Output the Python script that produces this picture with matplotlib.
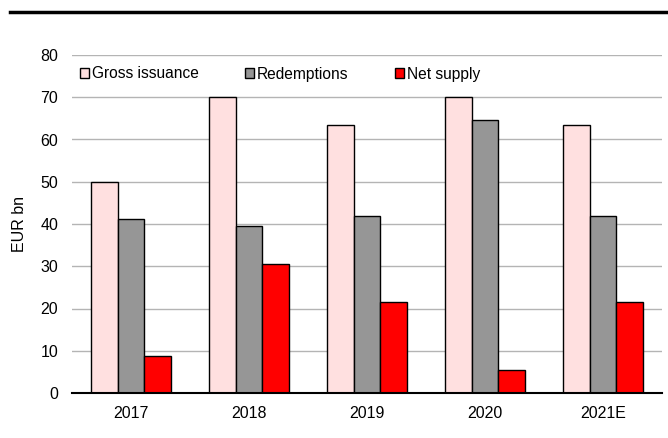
import matplotlib
matplotlib.use('Agg')
import matplotlib.pyplot as plt
from matplotlib.lines import Line2D
import numpy as np

years = ['2017', '2018', '2019', '2020', '2021E']
gross = [50.0, 70.0, 63.5, 70.0, 63.5]
redemptions = [41.3, 39.5, 42.0, 64.5, 42.0]
net_supply = [8.7, 30.5, 21.5, 5.5, 21.5]

plt.rcParams['font.family'] = ['Liberation Sans', 'DejaVu Sans']

fig = plt.figure(figsize=(6.68, 4.38), dpi=100)
ax = fig.add_axes([72 / 668, 1 - 393 / 438, 590 / 668, 338 / 438])

x = np.arange(len(years))
w = 0.224
series = [
    (gross, '#FFE0E0', 'Gross issuance'),
    (redemptions, '#969696', 'Redemptions'),
    (net_supply, '#FF0000', 'Net supply'),
]
for i, (vals, col, lab) in enumerate(series):
    ax.bar(x + (i - 1) * w, vals, width=w, color=col, edgecolor='black',
           linewidth=1.0, label=lab, zorder=3)

ax.set_xlim(-0.5, len(years) - 0.5)
ax.set_ylim(0, 80)
ax.set_yticks(range(0, 81, 10))
ax.set_xticks(x)
ax.set_xticklabels(years)
ax.tick_params(axis='both', length=0, colors='black', labelsize=11.5)
ax.tick_params(axis='y', pad=10)
ax.tick_params(axis='x', pad=9)
ax.grid(axis='y', color='#b4b4b4', linewidth=1.0, zorder=0)
for s in ['left', 'right', 'top']:
    ax.spines[s].set_visible(False)
ax.spines['bottom'].set_linewidth(1.5)
ax.spines['bottom'].set_zorder(4)
ax.set_ylabel('EUR bn', fontsize=11.5)
ax.yaxis.set_label_coords(-(72 - 27) / 590, 0.5)

ax.legend(loc='center left', bbox_to_anchor=(8 / 590, 1 - 19 / 338), ncol=3,
          frameon=False, fontsize=11.2, handlelength=0.55, handleheight=0.55,
          handletextpad=0.2, columnspacing=3.0, borderaxespad=0.0,
          borderpad=0.0)

fig.add_artist(Line2D([10 / 668, 1.0], [1 - 12 / 438, 1 - 12 / 438],
                      color='black', linewidth=2.5))

fig.savefig('out.png', dpi=100)
